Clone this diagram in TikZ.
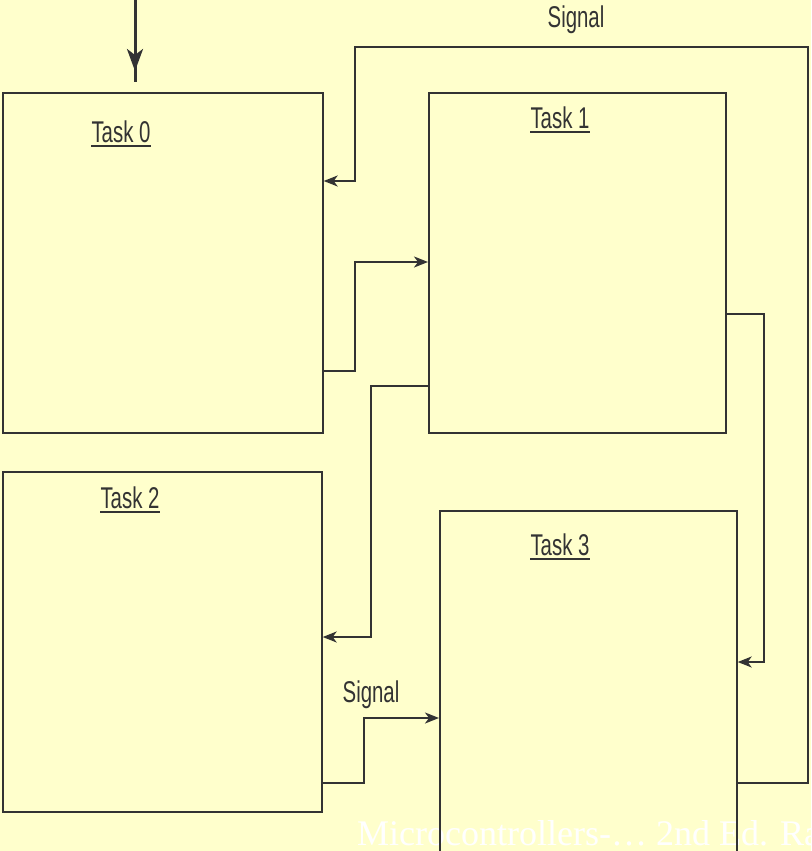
\documentclass[tikz,border=0pt]{standalone}
\usepackage{fontspec}
\usetikzlibrary{arrows.meta}
\newfontfamily\narrowfont{Liberation Sans}[FakeStretch=0.68]
\newfontfamily\markfont{Liberation Serif}
\definecolor{paper}{HTML}{FFFFCC}
\definecolor{ink}{HTML}{333333}
\tikzset{
  taskbox/.style={draw=ink, line width=1.7pt, rectangle, inner sep=0pt, anchor=north west},
  tasktitle/.style={inner sep=0pt, anchor=base, text=ink, font=\narrowfont\fontsize{30}{34}\selectfont},
  uline/.style={draw=ink, line width=1.8pt},
  conn/.style={draw=ink, line width=1.7pt},
  tip/.style={-{Stealth[length=14pt,width=11pt,inset=4pt]}},
}
\begin{document}
\begin{tikzpicture}[x=1pt, y=-1pt]
  \fill[paper] (0,0) rectangle (811,851);
  \useasboundingbox (0,0) rectangle (811,851);

  % footer mark, behind the box outlines
  \node[anchor=base west, inner sep=0pt, text=white, font=\markfont\fontsize{36}{40}\selectfont]
    (mark) at (357,845) {Microcontrollers-… 2nd Ed. Ra};

  % the four tasks
  \node[taskbox, minimum width=320pt, minimum height=340pt] (t0) at (2,92) {};
  \node[taskbox, minimum width=297pt, minimum height=340pt] (t1) at (428,92) {};
  \node[taskbox, minimum width=319pt, minimum height=340pt] (t2) at (2,471) {};
  \node[taskbox, minimum width=297pt, minimum height=341pt] (t3) at (439,510) {};

  % underlined titles
  \foreach \n/\x/\y/\t in {l0/121/142/Task 0, l1/560/128/Task 1, l2/130/508/Task 2, l3/560/555/Task 3}{
    \node[tasktitle] (\n) at (\x,\y) {\t};
    \draw[uline] ([yshift=-4pt]\n.base west) -- ([yshift=-4pt]\n.base east);
  }

  % signal labels
  \node[tasktitle] (sigtop) at (576,28) {Signal};
  \node[tasktitle] (sigbot) at (371,702) {Signal};

  % start arrow into Task 0
  \coordinate (start) at (135,0);
  \coordinate (startend) at (135,82);
  \draw[ink, line width=3pt] (start) -- (startend);
  \draw[ink, line width=3pt, -{Stealth[length=22pt,width=16pt,inset=6pt]}] (135,40) -- (135,71);

  % Task 3 signals back to Task 0
  \draw[conn, tip] (t3.east |- 0,783) -- (808,783) -- (808,47) -- (355,47) -- (355,181) -- (t0.east |- 0,181);

  % Task 0 to Task 1
  \draw[conn, tip] (t0.east |- 0,371) -- (355,371) -- (355,262) -- (t1.west |- 0,262);

  % Task 1 to Task 2
  \draw[conn, tip] (t1.west |- 0,386) -- (371,386) -- (371,637) -- (t2.east |- 0,637);

  % Task 1 to Task 3
  \draw[conn, tip] (t1.east |- 0,314) -- (764,314) -- (764,662) -- (t3.east |- 0,662);

  % Task 2 signals Task 3
  \draw[conn, tip] (t2.east |- 0,783) -- (364,783) -- (364,718) -- (t3.west |- 0,718);
\end{tikzpicture}
\end{document}
